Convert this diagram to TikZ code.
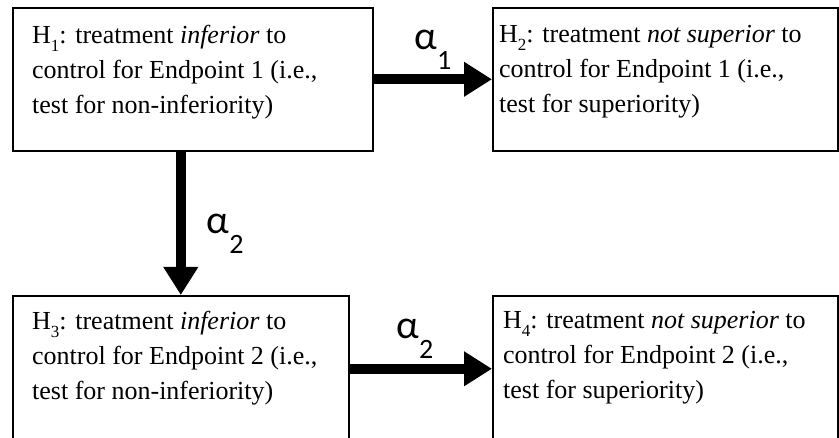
\documentclass[tikz,border=0pt]{standalone}
\usepackage{fontspec}
\setmainfont{Liberation Serif}
\newfontfamily\alphafont{Carlito}
\usetikzlibrary{arrows.meta,positioning}
\newcommand{\hsub}[1]{\raisebox{-8pt}{\fontsize{17}{17}\selectfont #1}}
\newcommand{\asub}[1]{α\raisebox{-20pt}{\fontsize{28}{28}\selectfont #1}}

\begin{document}
\begin{tikzpicture}[x=1pt,y=1pt,
hyp/.style={draw,line width=1.6pt,anchor=north west,inner sep=0pt,minimum height=143pt},
txt/.style={anchor=north west,inner sep=0pt,align=left,font=\fontsize{26}{35}\selectfont},
arr/.style={-{Triangle[length=28pt,width=33pt]},line width=10pt},
lbl/.style={inner sep=0pt,font=\alphafont\fontsize{40}{40}\selectfont}]
\useasboundingbox (0,0) rectangle (839,-438);
\node[hyp,minimum width=360pt] (H1) at (12,-7) {};
\node[hyp,minimum width=345pt] (H2) at (492,-7) {};
\node[hyp,minimum width=336pt,minimum height=146pt] (H3) at (12,-295) {};
\node[hyp,minimum width=345pt,minimum height=146pt] (H4) at (492,-295) {};
\node[txt] (T1) at ([xshift=20pt,yshift=-18pt]H1.north west) {H\hsub{1}: treatment \textit{inferior} to\\control for Endpoint 1 (i.e.,\\test for non-inferiority)};
\node[txt] (T2) at ([xshift=7pt,yshift=-18pt]H2.north west) {H\hsub{2}: treatment \textit{not superior} to\\control for Endpoint 1 (i.e.,\\test for superiority)};
\node[txt] (T3) at ([xshift=20pt,yshift=-16pt]H3.north west) {H\hsub{3}: treatment \textit{inferior} to\\control for Endpoint 2 (i.e.,\\test for non-inferiority)};
\node[txt] (T4) at ([xshift=11pt,yshift=-16pt]H4.north west) {H\hsub{4}: treatment \textit{not superior} to\\control for Endpoint 2 (i.e.,\\test for superiority)};
\draw[arr] (H1.east) -- node[lbl,above=5pt] (A1) {\asub{1}} (H2.west);
\draw[arr] (H3.north |- H1.south) -- node[lbl,pos=0.57,right=21pt] (A2) {\asub{2}} (H3.north);
\draw[arr] (H3.east) -- node[lbl,above=5pt,xshift=-6pt] (A3) {\asub{2}} (H4.west);
\end{tikzpicture}
\end{document}
